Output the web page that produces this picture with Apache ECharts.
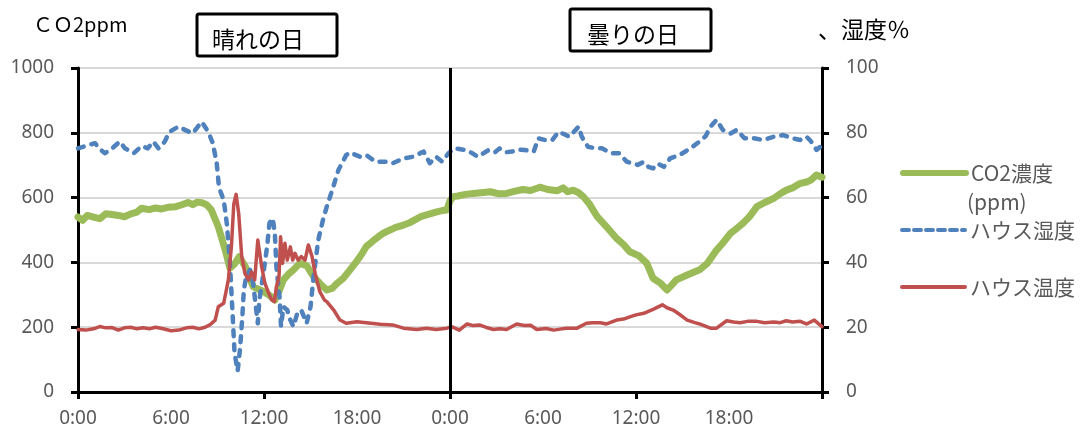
<!DOCTYPE html>
<html lang="ja">
<head>
<meta charset="utf-8">
<title>CO2濃度・ハウス湿度・ハウス温度</title>
<script src="https://cdn.jsdelivr.net/npm/echarts@6/dist/echarts.min.js"></script>
<style>
  html, body { margin: 0; padding: 0; background: #fff; }
  #chart { width: 1088px; height: 437px; }
</style>
</head>
<body>
<div id="chart"></div>
<script>
// Hour labels along the time axis (two days, every 6 hours)
const hourLabels = ['0:00', '6:00', '12:00', '18:00', '0:00', '6:00', '12:00', '18:00'];
const dayTitles = ['晴れの日', '曇りの日'];
const seriesNames = ['CO2濃度(ppm)', 'ハウス湿度', 'ハウス温度'];

// CO2 concentration, ppm: [hour since first midnight, value]
const co2Data = [
  [0, 540], [0.3, 530], [0.6, 545], [1.0, 540], [1.4, 535], [1.8, 550], [2.2, 548], [2.6, 545],
  [3.0, 541], [3.4, 550], [3.8, 555], [4.1, 567], [4.6, 563], [5.0, 568], [5.4, 565], [5.8, 570],
  [6.3, 572], [6.7, 578], [7.1, 585], [7.4, 578], [7.7, 586], [8.0, 584], [8.3, 578], [8.6, 562],
  [9.05, 510], [9.5, 438], [9.8, 382], [10.1, 395], [10.4, 418], [10.8, 387], [11.0, 360], [11.3, 325],
  [11.6, 318], [11.9, 312], [12.3, 300], [12.7, 284], [13.0, 315], [13.25, 346], [13.6, 365], [13.9, 377],
  [14.3, 397], [14.75, 390], [15.2, 356], [15.6, 335], [16.05, 315], [16.4, 320], [16.7, 335], [17.1, 350],
  [17.55, 377], [18.0, 405], [18.3, 425], [18.6, 449], [19.0, 465], [19.4, 480], [19.7, 490], [20.0, 497],
  [20.5, 508], [21.0, 515], [21.5, 525], [22.1, 541], [22.6, 548], [23.15, 556], [23.5, 560], [23.8, 562],
  [24.0, 590], [24.2, 603], [24.5, 605], [25.0, 610], [25.5, 613], [26.0, 615], [26.6, 618], [27.1, 612],
  [27.65, 613], [28.2, 620], [28.7, 625], [29.2, 622], [29.8, 632], [30.3, 625], [30.9, 621], [31.3, 630],
  [31.6, 618], [31.95, 623], [32.3, 615], [32.6, 603], [33.0, 580], [33.5, 541], [34.1, 510], [34.75, 474],
  [35.2, 455], [35.6, 433], [36.2, 420], [36.7, 397], [37.1, 351], [37.6, 335], [38.0, 315], [38.3, 330],
  [38.6, 346], [39.3, 361], [40.1, 377], [40.6, 397], [41.2, 438], [41.6, 460], [42.1, 490], [42.5, 505],
  [42.9, 521], [43.3, 540], [43.8, 572], [44.3, 585], [44.9, 598], [45.3, 612], [45.7, 623], [46.1, 630],
  [46.6, 644], [47.0, 648], [47.3, 655], [47.65, 670], [48, 663]
];

// Greenhouse humidity, %
const humidityData = [
  [0, 75.2], [0.4, 75.8], [0.66, 76.2], [1.1, 76.8], [1.4, 75.0], [1.74, 73.7], [2.2, 75.2], [2.7, 77.3],
  [3.03, 75.2], [3.3, 74.5], [3.6, 73.7], [4.1, 75.9], [4.5, 75.2], [4.86, 77.3], [5.2, 75.2], [5.6, 77.3],
  [5.9, 80.3], [6.47, 81.9], [6.9, 80.9], [7.4, 79.8], [7.98, 83.4], [8.4, 80.3], [8.7, 76.8], [8.95, 70.6],
  [9.1, 63], [9.4, 59.3], [9.6, 52], [9.8, 40], [9.96, 25.3], [10.1, 12], [10.3, 6.5], [10.45, 13],
  [10.6, 23], [10.7, 31.5], [10.85, 35.6], [11.1, 37.7], [11.3, 33.5], [11.5, 25.3], [11.6, 21.2], [11.7, 28.4],
  [11.9, 34.6], [12.2, 44.8], [12.35, 52.1], [12.56, 53.6], [12.7, 49], [12.8, 38.7], [13.0, 29.4], [13.1, 20.2],
  [13.25, 26.3], [13.5, 25.3], [13.7, 22.2], [13.9, 20.2], [14.15, 24.3], [14.4, 25.3], [14.75, 21.2], [15.0, 26.3],
  [15.2, 35.6], [15.5, 46.9], [15.8, 53], [16.05, 57.2], [16.4, 62.3], [16.8, 68.5], [17.3, 73.1], [17.55, 73.9],
  [18.2, 72.6], [18.6, 73.1], [19.2, 71.1], [19.9, 71.1], [20.3, 70.6], [21.0, 72.1], [21.6, 72.6], [22.3, 74.2],
  [22.7, 70.6], [23.1, 72.6], [23.5, 71.1], [23.9, 73.7], [24.3, 75.2], [24.97, 74.7], [25.4, 73.8], [25.8, 72.6],
  [26.1, 73.5], [26.5, 74.7], [26.9, 74.0], [27.2, 75.2], [27.6, 74.0], [28.0, 74.2], [28.4, 74.8], [28.8, 74.7],
  [29.4, 74.2], [29.7, 78.3], [30.1, 77.8], [30.6, 77.8], [31.0, 80.3], [31.4, 79.5], [31.7, 78.8], [32.3, 81.9],
  [32.5, 78.8], [32.9, 75.7], [33.4, 75.2], [33.8, 75.2], [34.4, 73.7], [34.9, 73.7], [35.4, 71.1], [35.8, 70.5],
  [36.1, 70.1], [36.5, 71.0], [36.8, 69.5], [37.1, 69.0], [37.4, 70.5], [37.8, 69.5], [38.2, 72.1], [38.8, 73.1],
  [39.5, 75.2], [40.1, 77.3], [40.5, 79], [40.8, 81.9], [41.2, 84.0], [41.6, 80.9], [42.1, 79.8], [42.5, 80.9],
  [43.0, 78.3], [43.6, 78.3], [44.2, 77.8], [44.9, 78.8], [45.5, 79.3], [46.1, 78.3], [46.6, 77.8], [47.0, 78.8],
  [47.3, 77.3], [47.65, 74.7], [48, 76.2]
];

// Greenhouse temperature (plotted against the right-hand scale)
const temperatureData = [
  [0, 19.3], [0.5, 19.1], [1.0, 19.5], [1.4, 20.2], [1.8, 19.8], [2.2, 19.9], [2.6, 19.1], [3.0, 19.8],
  [3.4, 20.0], [3.8, 19.5], [4.2, 19.8], [4.6, 19.5], [5.0, 20.0], [5.5, 19.5], [6.0, 18.9], [6.5, 19.1],
  [7.0, 19.8], [7.4, 20.0], [7.8, 19.5], [8.2, 20.0], [8.5, 20.7], [8.85, 22.2], [9.05, 26.3], [9.4, 27.4],
  [9.7, 34.6], [9.9, 45], [10.05, 58], [10.2, 61], [10.37, 55], [10.56, 42], [10.77, 36.6], [11.0, 34.6],
  [11.2, 37], [11.4, 34.6], [11.6, 46.9], [11.85, 38.7], [12.06, 33.5], [12.3, 30.5], [12.5, 28.4], [12.67, 27.9],
  [12.8, 32.5], [12.97, 35.6], [13.07, 47.9], [13.2, 39.7], [13.35, 45.9], [13.5, 40.7], [13.7, 44.8], [13.85, 40.7],
  [14.0, 42.8], [14.2, 40.7], [14.4, 41.8], [14.65, 40.7], [14.86, 45.4], [15.1, 41.8], [15.3, 36.6], [15.6, 31],
  [15.9, 28.4], [16.05, 27.9], [16.5, 25.3], [16.9, 22.2], [17.3, 21.2], [18.0, 21.7], [18.6, 21.4], [19.5, 20.9],
  [20.3, 20.7], [21.0, 19.7], [21.85, 19.3], [22.5, 19.7], [23.1, 19.3], [23.8, 19.7], [24.1, 20.2], [24.6, 19.1],
  [25.1, 21.0], [25.5, 20.5], [25.9, 20.7], [26.3, 20.0], [26.8, 19.3], [27.2, 19.5], [27.65, 19.3], [28.3, 21.0],
  [28.8, 20.5], [29.2, 20.6], [29.6, 19.3], [30.2, 19.6], [30.7, 19.1], [31.1, 19.4], [31.5, 19.7], [32.2, 19.7],
  [32.8, 21.2], [33.2, 21.4], [33.7, 21.4], [34.1, 21.0], [34.75, 22.2], [35.2, 22.5], [35.6, 23.2], [36.0, 23.8],
  [36.5, 24.3], [37.1, 25.5], [37.7, 26.9], [38.0, 26.0], [38.4, 25.3], [38.8, 24.0], [39.3, 22.2], [39.8, 21.4],
  [40.1, 21.0], [40.8, 19.7], [41.2, 19.7], [41.85, 22.0], [42.3, 21.6], [42.7, 21.4], [43.2, 21.8], [43.8, 21.8],
  [44.3, 21.4], [44.9, 21.6], [45.3, 21.4], [45.7, 22.0], [46.1, 21.6], [46.6, 21.8], [47.0, 21.0], [47.5, 22.2],
  [48, 20.2]
];

const FONT = '"Noto Sans", "Noto Sans CJK JP", sans-serif';
const CJK = '"Noto Sans CJK JP", "Noto Sans", sans-serif';
const GRAY = '#595959';
const GREEN = '#9BBB59';
const BLUE = '#4F81BD';
const RED = '#C0504D';
const DASH = [6, 8];

const co2Line = { color: GREEN, width: 7, join: 'round', cap: 'round' };
const humidityLine = { color: BLUE, width: 4.5, type: DASH, cap: 'round', join: 'round' };
const temperatureLine = { color: RED, width: 3.5, join: 'round', cap: 'round' };

const chart = echarts.init(document.getElementById('chart'), null, { renderer: 'canvas' });

const axisLineStyle = { color: '#000', width: 3 };

// one legend block per series so each entry sits at its own height
function legendBlock(top, name, lineStyle, extra) {
  return Object.assign({
    orient: 'vertical',
    left: 900,
    top: top,
    padding: 0,
    itemWidth: 63,
    itemHeight: 14,
    itemGap: 0,
    data: [name],
    itemStyle: { opacity: 0 },
    lineStyle: lineStyle,
    textStyle: { color: GRAY, fontSize: 21, fontFamily: CJK, lineHeight: 24 }
  }, extra || {});
}

chart.setOption({
  animation: false,
  backgroundColor: '#fff',
  grid: { left: 78, right: 266, top: 68, bottom: 45, containLabel: false },
  legend: [
    legendBlock(161, seriesNames[0], { color: GREEN, width: 6, cap: 'round' }, { formatter: () => 'CO2濃度' }),
    legendBlock(218, seriesNames[1], { color: BLUE, width: 4, type: [7, 5], cap: 'round' }),
    legendBlock(275, seriesNames[2], { color: RED, width: 4 })
  ],
  xAxis: {
    type: 'value',
    min: 0,
    max: 48,
    interval: 6,
    axisLine: { show: true, onZero: false, lineStyle: axisLineStyle },
    axisTick: {
      show: true,
      customValues: [0, 12, 24, 36, 48],
      length: 7,
      lineStyle: axisLineStyle
    },
    axisLabel: {
      customValues: [0, 6, 12, 18, 24, 30, 36, 42],
      formatter: (v) => hourLabels[Math.round(v / 6)] || '',
      color: GRAY,
      fontSize: 19,
      fontFamily: FONT,
      margin: 17
    },
    splitLine: { show: false }
  },
  yAxis: [
    {
      type: 'value',
      position: 'left',
      min: 0,
      max: 1000,
      interval: 200,
      axisLine: { show: true, lineStyle: axisLineStyle },
      axisTick: { show: true, length: 7, lineStyle: axisLineStyle },
      axisLabel: { color: GRAY, fontSize: 19, fontFamily: FONT, margin: 24, formatter: (v) => String(v) },
      splitLine: { show: true, lineStyle: { color: '#D9D9D9', width: 2 } }
    },
    {
      type: 'value',
      position: 'right',
      min: 0,
      max: 100,
      interval: 20,
      axisLine: { show: true, lineStyle: axisLineStyle },
      axisTick: { show: true, length: 7, lineStyle: axisLineStyle },
      axisLabel: { color: GRAY, fontSize: 19, fontFamily: FONT, margin: 24, formatter: (v) => String(v) },
      splitLine: { show: false }
    }
  ],
  series: [
    {
      name: seriesNames[0],
      type: 'line',
      yAxisIndex: 0,
      data: co2Data,
      symbol: 'none',
      color: GREEN,
      lineStyle: co2Line,
      z: 2
    },
    {
      name: seriesNames[1],
      type: 'line',
      yAxisIndex: 1,
      data: humidityData,
      symbol: 'none',
      color: BLUE,
      lineStyle: humidityLine,
      z: 3
    },
    {
      name: seriesNames[2],
      type: 'line',
      yAxisIndex: 1,
      data: temperatureData,
      symbol: 'none',
      color: RED,
      lineStyle: temperatureLine,
      z: 4,
      // midnight divider between the two days
      markLine: {
        silent: true,
        symbol: ['none', 'none'],
        label: { show: false },
        lineStyle: { color: '#000', width: 3, type: 'solid' },
        data: [{ xAxis: 24 }]
      }
    }
  ],
  graphic: [
    {
      type: 'text', left: 33, top: 14,
      style: { text: 'ＣＯ2ppm', fill: '#000', fontSize: 20, fontFamily: CJK }
    },
    {
      type: 'text', left: 818, top: 18,
      style: { text: '、湿度％', fill: '#000', fontSize: 23, fontFamily: CJK }
    },
    {
      type: 'rect', shape: { x: 197, y: 14, width: 140, height: 42, r: 2 },
      style: { fill: '#fff', stroke: '#000', lineWidth: 3 }, z: 10
    },
    {
      type: 'text', x: 212, y: 39, z: 11,
      style: { text: dayTitles[0], fill: '#000', fontSize: 23, fontFamily: CJK, verticalAlign: 'middle' }
    },
    {
      type: 'rect', shape: { x: 570, y: 9, width: 141, height: 42, r: 2 },
      style: { fill: '#fff', stroke: '#000', lineWidth: 3 }, z: 10
    },
    {
      type: 'text', x: 587, y: 34, z: 11,
      style: { text: dayTitles[1], fill: '#000', fontSize: 23, fontFamily: CJK, verticalAlign: 'middle' }
    },
    {
      type: 'text', x: 967, y: 202,
      style: { text: '(ppm)', fill: GRAY, fontSize: 21, fontFamily: CJK, verticalAlign: 'middle' }
    }
  ]
});
</script>
</body>
</html>
